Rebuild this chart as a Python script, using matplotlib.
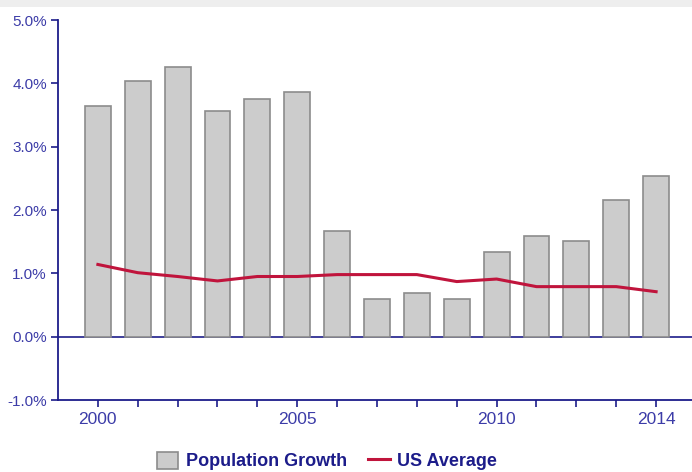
import numpy as np
import matplotlib.pyplot as plt
from matplotlib.patches import Rectangle
from matplotlib.ticker import FuncFormatter

plt.rcParams['font.family'] = ['Liberation Sans', 'DejaVu Sans']

years = np.arange(2000, 2015)
pop_growth = [3.64, 4.04, 4.26, 3.56, 3.75, 3.86, 1.67, 0.60, 0.69, 0.60,
              1.34, 1.59, 1.51, 2.15, 2.54]
us_average = [1.14, 1.01, 0.95, 0.88, 0.95, 0.95, 0.98, 0.98, 0.98, 0.87,
              0.91, 0.79, 0.79, 0.79, 0.71]
year_labels = {2000: '2000', 2005: '2005', 2010: '2010', 2014: '2014'}

navy = '#1c1c8a'
label_blue = '#3c3ca8'

fig = plt.figure(figsize=(6.92, 4.72), dpi=100)
fig.patches.append(Rectangle((0, 1 - 7 / 472), 1, 7 / 472, transform=fig.transFigure,
                             facecolor='#eeeeee', edgecolor='none', zorder=0))

ax = fig.add_axes([58 / 692, 1 - 400 / 472, 634 / 692, 380 / 472])
bars = ax.bar(years, pop_growth, width=0.65, color='#cccccc', edgecolor='#8c8c8c',
              linewidth=1.2, label='Population Growth', zorder=2)
line, = ax.plot(years, us_average, color='#c0143c', linewidth=2.2,
                label='US Average', zorder=3)
ax.axhline(0, color=navy, linewidth=1.2, zorder=1)

ax.set_xlim(1999, 2014.9)
ax.set_ylim(-1.0, 5.0)
ax.set_yticks(np.arange(-1.0, 5.01, 1.0))
ax.yaxis.set_major_formatter(FuncFormatter(lambda v, p: f'{v:.1f}%'))
ax.set_xticks(years)
ax.set_xticklabels([year_labels.get(y, '') for y in years])

for side in ['top', 'right']:
    ax.spines[side].set_visible(False)
for side in ['left', 'bottom']:
    ax.spines[side].set_color(navy)
    ax.spines[side].set_linewidth(1.3)
ax.tick_params(axis='both', colors=navy, labelcolor=label_blue, length=5, width=1.2)
ax.tick_params(axis='y', labelsize=11, pad=3)
ax.tick_params(axis='x', labelsize=12.5, pad=4)

fig.legend([bars, line], ['Population Growth', 'US Average'],
           loc='center', bbox_to_anchor=(327 / 692, 1 - 461 / 472), ncol=2, frameon=False,
           prop={'weight': 'bold', 'size': 13}, labelcolor=navy,
           handlelength=1.2, handleheight=1.1, handletextpad=0.4, columnspacing=1.2)

fig.savefig('out.png', dpi=100)
